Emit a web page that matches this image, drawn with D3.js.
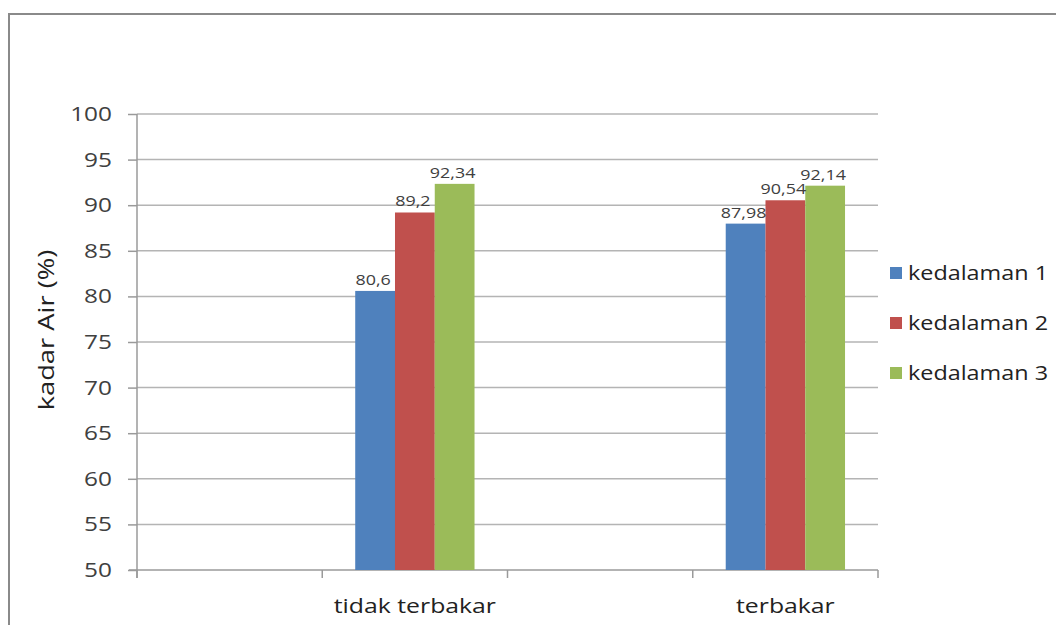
<!DOCTYPE html>
<html>
<head>
<meta charset="utf-8">
<script src="https://cdn.jsdelivr.net/npm/d3@7"></script>
<style>
  body { margin: 0; background: #fff; }
  #chart { width: 1056px; height: 625px; }
  text { font-family: "Open Sans", "Noto Sans", sans-serif; }
</style>
</head>
<body>
<div id="chart"></div>
<script>
// Chart data
const categories = ["", "tidak terbakar", " ", "terbakar"];
const seriesNames = ["kedalaman 1", "kedalaman 2", "kedalaman 3"];
const kedalaman1 = [null, 80.6, null, 87.98];
const kedalaman2 = [null, 89.2, null, 90.54];
const kedalaman3 = [null, 92.34, null, 92.14];
const yTicks = [50, 55, 60, 65, 70, 75, 80, 85, 90, 95, 100];
const colors = ["#4F81BD", "#C0504D", "#9BBB59"];

const seriesValues = [kedalaman1, kedalaman2, kedalaman3];

const width = 1056, height = 625;
const margin = { top: 114, right: 178, bottom: 55, left: 137 };
const plotW = width - margin.left - margin.right;
const plotH = height - margin.top - margin.bottom;

// the source picture has wide-looking text, so stretch it a bit
function stretch(sel, sx) {
    sel.each(function () {
        const t = d3.select(this);
        const x = +t.attr("x") || 0;
        const y = +t.attr("y") || 0;
        const prev = t.attr("transform") || "";
        t.attr("x", 0).attr("y", 0)
         .attr("transform", `${prev} translate(${x},${y}) scale(${sx},1)`);
    });
}

const root = d3.select("#chart").append("svg")
    .attr("width", width)
    .attr("height", height);

// outer frame (top and left edges visible)
root.append("path")
    .attr("d", `M9,${height} L9,14 L${width},14`)
    .attr("fill", "none")
    .attr("stroke", "#8a8a8a")
    .attr("stroke-width", 2);

const svg = root.append("g")
    .attr("transform", `translate(${margin.left}, ${margin.top})`);

// scales
const x0 = d3.scaleBand()
    .domain(categories)
    .range([0, plotW])
    .padding(0);

const gap = x0.bandwidth() * 0.178;
const x1 = d3.scaleBand()
    .domain(seriesNames)
    .range([gap, x0.bandwidth() - gap])
    .padding(0);

const y = d3.scaleLinear()
    .domain([50, 100])
    .range([plotH, 0]);

// gridlines
svg.append("g")
    .selectAll("line")
    .data(yTicks.filter(t => t > 50))
    .join("line")
    .attr("x1", 0)
    .attr("x2", plotW)
    .attr("y1", d => y(d))
    .attr("y2", d => y(d))
    .attr("stroke", "#b4b4b4")
    .attr("stroke-width", 1.5);

// y axis
const yAxis = svg.append("g")
    .call(d3.axisLeft(y).tickValues(yTicks).tickSize(9).tickPadding(16));
yAxis.select(".domain").attr("stroke", "#9a9a9a").attr("stroke-width", 1.5)
    .attr("d", `M0,${plotH + 8}V0`);
yAxis.selectAll(".tick line").attr("stroke", "#9a9a9a").attr("stroke-width", 1.5);
yAxis.selectAll(".tick text")
    .attr("fill", "#404040")
    .style("font-size", "20px")
    .call(stretch, 1.22);

// x axis with boundary ticks
const xAxisG = svg.append("g")
    .attr("transform", `translate(0, ${plotH})`);
xAxisG.append("line")
    .attr("x1", -8).attr("x2", plotW)
    .attr("stroke", "#9a9a9a").attr("stroke-width", 1.5);
const bounds = categories.map(c => x0(c)).concat([plotW]);
xAxisG.selectAll(".xtick")
    .data(bounds)
    .join("line")
    .attr("class", "xtick")
    .attr("x1", d => d).attr("x2", d => d)
    .attr("y1", 0).attr("y2", 8)
    .attr("stroke", "#9a9a9a").attr("stroke-width", 1.5);
xAxisG.selectAll(".xlabel")
    .data(categories)
    .join("text")
    .attr("class", "xlabel")
    .attr("x", d => x0(d) + x0.bandwidth() / 2)
    .attr("y", 43)
    .attr("text-anchor", "middle")
    .attr("fill", "#222")
    .style("font-size", "20px")
    .text(d => d.trim())
    .call(stretch, 1.24);

// bars
const barData = [];
categories.forEach((c, i) => {
    seriesNames.forEach((s, j) => {
        const v = seriesValues[j][i];
        if (v !== null) barData.push({ cat: c, series: s, value: v, color: colors[j] });
    });
});

svg.selectAll("rect.bar")
    .data(barData)
    .join("rect")
    .attr("class", "bar")
    .attr("x", d => x0(d.cat) + x1(d.series))
    .attr("width", x1.bandwidth())
    .attr("y", d => y(d.value))
    .attr("height", d => plotH - y(d.value))
    .attr("fill", d => d.color);

// data labels
const fmt = v => String(v).replace(".", ",");
svg.selectAll("text.vlabel")
    .data(barData)
    .join("text")
    .attr("class", "vlabel")
    .attr("x", d => x0(d.cat) + x1(d.series) + x1.bandwidth() / 2 - 2)
    .attr("y", d => y(d.value) - 6)
    .attr("text-anchor", "middle")
    .attr("fill", "#404040")
    .style("font-size", "14px")
    .text(d => fmt(d.value))
    .call(stretch, 1.28);

// y axis title
root.append("text")
    .attr("transform", `translate(54, 330) rotate(-90) scale(1.3,1)`)
    .attr("text-anchor", "middle")
    .attr("fill", "#222")
    .style("font-size", "21px")
    .text("kadar Air (%)");

// legend
const legend = root.append("g")
    .attr("transform", "translate(890, 273)");
const items = legend.selectAll("g")
    .data(seriesNames)
    .join("g")
    .attr("transform", (d, i) => `translate(0, ${i * 50})`);
items.append("rect")
    .attr("x", 0).attr("y", -6)
    .attr("width", 12).attr("height", 12)
    .attr("fill", (d, i) => colors[i]);
items.append("text")
    .attr("x", 18).attr("y", 0)
    .attr("dy", "0.35em")
    .attr("fill", "#222")
    .style("font-size", "20px")
    .text(d => d)
    .call(stretch, 1.17);
</script>
</body>
</html>
